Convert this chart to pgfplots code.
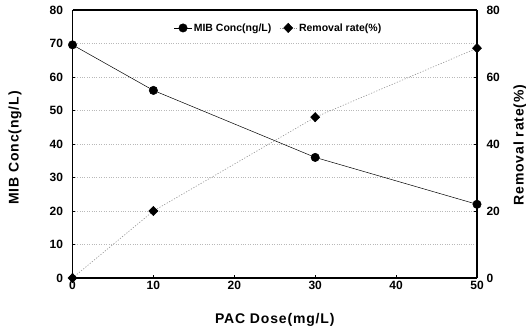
\documentclass[border=0pt]{standalone}
\usepackage{pgfplots}
\pgfplotsset{compat=1.18}
\usepackage{fontspec}
\setmainfont{Liberation Sans}
\newfontfamily\labelfont[LetterSpace=6]{Liberation Sans}
\newcommand\labfont{\labelfont\bfseries\fontsize{14}{16}\selectfont}

\pgfplotsset{
  common/.style={
    scale only axis,
    width=404.5pt, height=268pt,
    xmin=0, xmax=50, ymin=0, ymax=80,
    tick style={black, line width=0.8pt},
    tick align=inside,
    major tick length=3pt,
    axis line style={line width=1.3pt},
    ticklabel style={font=\bfseries\fontsize{12}{14}\selectfont},
    /pgf/number format/assume math mode=true,
    clip=false,
  },
  rate/.style={gray!85, dash pattern=on 1.2pt off 1.6pt, line width=0.6pt,
    mark=diamond*, mark options={solid, black, fill=black, xscale=1.3}, mark size=4.6pt},
  conc/.style={black, line width=0.5pt, mark=*, mark options={solid, fill=black}, mark size=4.2pt},
}

\begin{document}
\begin{tikzpicture}
\useasboundingbox (-72.5pt,-54pt) rectangle (453.5pt,278pt);
% MIB concentration on the left axis
\begin{axis}[
  common,
  xtick={0,10,...,50}, ytick={0,10,...,80},
  axis y line*=left,
  axis x line*=bottom,
  ymajorgrids,
  grid style={gray!55, dotted, line width=0.5pt},
  yticklabel style={xshift=-6pt},
  xlabel={PAC Dose(mg/L)},
  ylabel={MIB Conc(ng/L)},
  every axis x label/.style={at={(axis description cs:0.5,0)}, yshift=-42pt, anchor=center, font=\labfont},
  every axis y label/.style={at={(axis description cs:0,0.485)}, xshift=-57.5pt, rotate=90, anchor=center, font=\labfont},
  legend style={at={(axis description cs:0.51,0.933)}, anchor=center, draw=none, fill=white,
    legend columns=2, font=\bfseries\fontsize{10.5}{12}\selectfont,
    /tikz/every even column/.append style={column sep=6pt}},
  legend cell align=left,
]
\addplot[conc] coordinates {(0,69.6) (10,56) (30,36) (50,22)};
\addlegendentry{MIB Conc(ng/L)}
\addlegendimage{rate}
\addlegendentry{Removal rate(\%)}
\end{axis}
% Removal rate on the right axis
\begin{axis}[
  common,
  ytick={0,20,...,80},
  axis y line*=right,
  axis x line*=top,
  xtick=\empty,
  yticklabel style={xshift=6pt},
  ylabel={Removal rate(\%)},
  every axis y label/.style={at={(axis description cs:1,0.496)}, xshift=43pt, rotate=90, anchor=center, font=\labfont},
]
\addplot[rate] coordinates {(0,0) (10,20) (30,48) (50,68.6)};
\end{axis}
\end{tikzpicture}
\end{document}
